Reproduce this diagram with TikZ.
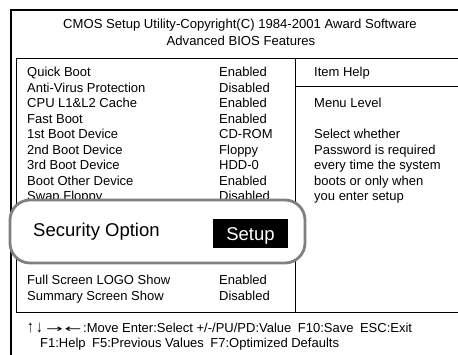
\documentclass[tikz,border=0pt]{standalone}
\usepackage{fontspec}
\setmainfont{Liberation Sans}
\newfontfamily\dvfont{DejaVu Sans}
\newcommand{\arrw}[2]{\rlap{#1}\hspace{#2}}
\begin{document}
\begin{tikzpicture}[x=1pt,y=-1pt,
  txt/.style={anchor=base west,inner sep=0pt,font=\fontsize{13}{15.5}\selectfont},
  ctxt/.style={anchor=base,inner sep=0pt,font=\fontsize{13.1}{15.5}\selectfont},
  frame/.style={line width=2.5pt,black},
  rule/.style={line width=1pt,black},
  big/.style={inner sep=0pt,font=\fontsize{18.5}{22}\selectfont}]
\useasboundingbox (0,0) rectangle (458,354);
\clip (0,0) rectangle (458,354);
\fill[white] (0,0) rectangle (458,354);
% frames
\draw[frame] (11,360) -- (11,10) -- (470,10);
\draw[rule] (470,58) -- (16.5,58) -- (16.5,312) -- (470,312);
\draw[rule] (295,58) -- (295,312);
\draw[rule] (295,86) -- (470,86);
% title
\node[ctxt] (t1) at (240,28.5) {CMOS Setup Utility-Copyright(C) 1984-2001 Award Software};
\node[ctxt] (t2) at (241,45.5) {Advanced BIOS Features};
% rows
\foreach \n/\lab/\val [count=\i from 0] in {
  r0/Quick Boot/Enabled,
  r1/Anti-Virus Protection/Disabled,
  r2/CPU L1\&L2 Cache/Enabled,
  r3/Fast Boot/Enabled,
  r4/1st Boot Device/CD-ROM,
  r5/2nd Boot Device/Floppy,
  r6/3rd Boot Device/HDD-0,
  r7/Boot Other Device/Enabled,
  r8/Swap Floppy/Disabled}{
  \node[txt] (\n l) at (27,76.5+15.5*\i) {\lab};
  \node[txt] (\n v) at (219,76.5+15.5*\i) {\val};
}
\node[txt] (fl) at (27,284.5) {Full Screen LOGO Show};
\node[txt] (fv) at (219,284.5) {Enabled};
\node[txt] (sl) at (27,300) {Summary Screen Show};
\node[txt] (sv) at (219,300) {Disabled};
% help
\node[txt] (h0) at (314,76.5) {Item Help};
\node[txt] (h1) at (314,107.5) {Menu Level};
\node[txt] (h2) at (314,138.5) {Select whether};
\node[txt] (h3) at (314,154) {Password is required};
\node[txt] (h4) at (314,169.5) {every time the system};
\node[txt] (h5) at (314,185) {boots or only when};
\node[txt] (h6) at (314,200.5) {you enter setup};
% overlay
\draw[line width=2.8pt,draw=black!50,fill=white,rounded corners=20pt] (10,200) rectangle (305,263);
\node[big,anchor=base west] (so) at (33,236.5) {Security Option};
\fill[black] (213,219) rectangle (288,248);
\node[big,text=white,anchor=base] (su) at (250.5,240) {Setup};
% footer
\node[txt] (f1) at (27,332.5) {\arrw{\scalebox{1}[1.3]{↑}}{9pt}\arrw{\scalebox{1}[1.3]{↓}}{10pt}\arrw{\dvfont\scalebox{1.55}[0.8]{→}}{18.5pt}\arrw{\dvfont\scalebox{1.55}[0.8]{←}}{18.5pt}:Move Enter:Select +/-/PU/PD:Value\hspace{0.5em}F10:Save\hspace{0.5em}ESC:Exit};
\node[txt] (f2) at (40,347.5) {F1:Help\hspace{0.5em}F5:Previous Values\hspace{0.5em}F7:Optimized Defaults};
\end{tikzpicture}
\end{document}
